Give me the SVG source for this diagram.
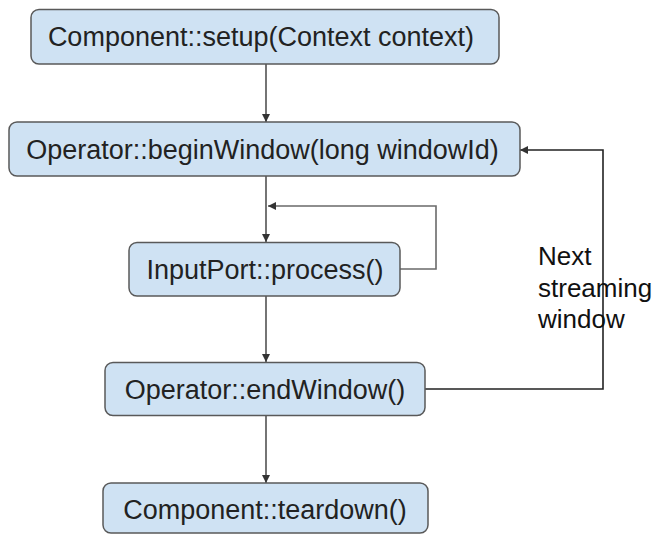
<svg xmlns="http://www.w3.org/2000/svg" width="657" height="535" viewBox="0 0 657 535">
  <style>
    .box { fill: #cfe2f3; stroke: #595959; stroke-width: 1.5; }
    .lbl { font-family: "Liberation Sans", Arial, sans-serif; font-size: 27px; fill: #222; text-anchor: middle; }
    .note { font-family: "Liberation Sans", Arial, sans-serif; font-size: 26px; fill: #111; }
    .wire { fill: none; stroke: #3a3a3a; stroke-width: 1.4; }
    .loop { fill: none; stroke: #6a6a6a; stroke-width: 1.6; }
    .back { fill: none; stroke: #222; stroke-width: 1.6; }
  </style>
  <defs>
    <marker id="arrow" viewBox="0 0 10 10" refX="10" refY="5" markerWidth="8" markerHeight="8" markerUnits="userSpaceOnUse" orient="auto">
      <path d="M0,0 L10,5 L0,10 z" fill="#333"/>
    </marker>
  </defs>
  <rect width="657" height="535" fill="#ffffff"/>

  <g id="connectors">
    <line class="wire" x1="266" y1="64" x2="266" y2="122" marker-end="url(#arrow)"/>
    <line class="wire" x1="266" y1="176" x2="266" y2="242" marker-end="url(#arrow)"/>
    <polyline class="loop" points="400,269 436,269 436,206 268,206" marker-end="url(#arrow)"/>
    <line class="wire" x1="266" y1="296" x2="266" y2="362" marker-end="url(#arrow)"/>
    <polyline class="back" points="425,389 603,389 603,150 520,150" marker-end="url(#arrow)"/>
    <line class="wire" x1="266" y1="416" x2="266" y2="483" marker-end="url(#arrow)"/>
  </g>

  <g id="setup">
    <rect class="box" x="31" y="9.5" width="468" height="54.5" rx="8"/>
    <text class="lbl" x="261" y="46">Component::setup(Context context)</text>
  </g>
  <g id="beginWindow">
    <rect class="box" x="9" y="122" width="511" height="54" rx="8"/>
    <text class="lbl" x="262.5" y="159">Operator::beginWindow(long windowId)</text>
  </g>
  <g id="process">
    <rect class="box" x="129" y="242.5" width="271" height="53.5" rx="8"/>
    <text class="lbl" x="265" y="279">InputPort::process()</text>
  </g>
  <g id="endWindow">
    <rect class="box" x="105" y="362.5" width="320" height="53" rx="8"/>
    <text class="lbl" x="265" y="399">Operator::endWindow()</text>
  </g>
  <g id="teardown">
    <rect class="box" x="103" y="483" width="325" height="50" rx="8"/>
    <text class="lbl" x="265" y="519">Component::teardown()</text>
  </g>

  <g id="nextWindowLabel">
    <text class="note" x="538" y="265">Next</text>
    <text class="note" x="538" y="296.5">streaming</text>
    <text class="note" x="538" y="328">window</text>
  </g>
</svg>
